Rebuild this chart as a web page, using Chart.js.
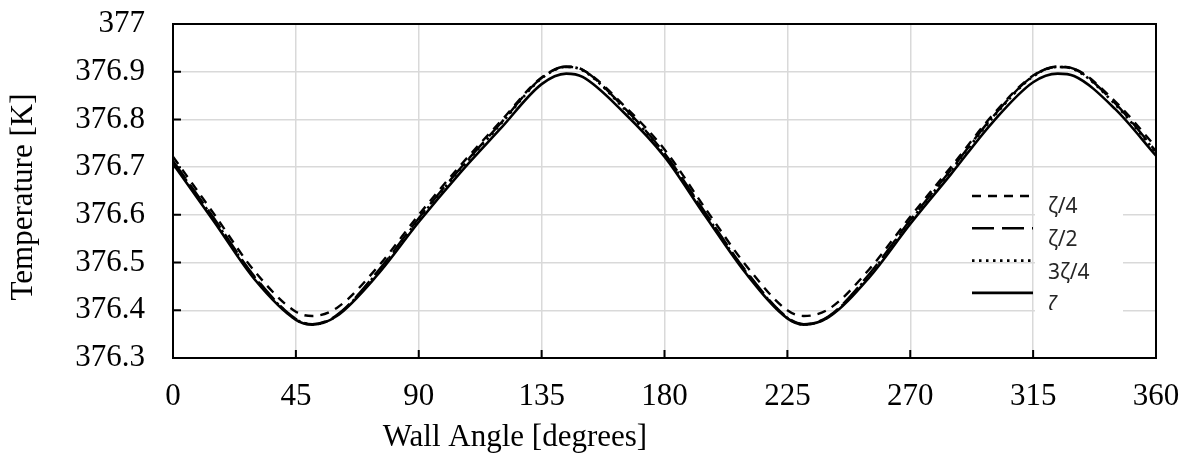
<!DOCTYPE html>
<html>
<head>
<meta charset="utf-8">
<script src="https://cdn.jsdelivr.net/npm/chart.js@4"></script>
<style>
  html, body { margin: 0; background: #fff; }
  #wrap { width: 1190px; height: 466px; position: relative; }
</style>
</head>
<body>
<div id="wrap"><canvas id="tempChart"></canvas></div>
<script>
// Wall temperature vs. wall angle for four values of zeta.

const ANGLES = [0, 15, 30, 45, 51, 60, 75, 90, 105, 120, 135, 144, 150, 165, 180,
  195, 210, 225, 231, 240, 255, 270, 285, 300, 315, 324, 330, 345, 360];

const ZETA_Q = [376.722, 376.602, 376.481, 376.397, 376.388, 376.405, 376.491, 376.600,
  376.702, 376.796, 376.888, 376.910, 376.904, 376.830, 376.737, 376.613, 376.493,
  376.400, 376.388, 376.402, 376.486, 376.596, 376.701, 376.808, 376.892, 376.910,
  376.906, 376.838, 376.742];

const ZETA_H = [376.713, 376.593, 376.470, 376.382, 376.371, 376.390, 376.482, 376.593,
  376.696, 376.792, 376.887, 376.911, 376.904, 376.826, 376.729, 376.604, 376.481,
  376.385, 376.371, 376.387, 376.476, 376.589, 376.695, 376.804, 376.891, 376.911,
  376.906, 376.834, 376.733];

const ZETA_3Q = [376.711, 376.591, 376.468, 376.381, 376.370, 376.389, 376.480, 376.591,
  376.694, 376.790, 376.886, 376.910, 376.903, 376.824, 376.727, 376.602, 376.479,
  376.384, 376.370, 376.386, 376.474, 376.587, 376.693, 376.802, 376.890, 376.910,
  376.905, 376.832, 376.731];

const ZETA = [376.707, 376.586, 376.464, 376.380, 376.370, 376.388, 376.475, 376.585,
  376.687, 376.781, 376.874, 376.896, 376.889, 376.815, 376.722, 376.597, 376.476,
  376.383, 376.370, 376.385, 376.469, 376.581, 376.686, 376.793, 376.878, 376.896,
  376.891, 376.822, 376.724];

const SERIES_LABELS = ['ζ/4', 'ζ/2', '3ζ/4', 'ζ'];

const X_TICKS = [0, 45, 90, 135, 180, 225, 270, 315, 360];
const Y_TICKS = [376.3, 376.4, 376.5, 376.6, 376.7, 376.8, 376.9, 377];
const Y_TICK_LABELS = ['376.3', '376.4', '376.5', '376.6', '376.7', '376.8', '376.9', '377'];

const X_TITLE = 'Wall Angle [degrees]';
const Y_TITLE = 'Temperature [K]';

const SERIF = '"Liberation Serif", "Times New Roman", serif';
const GRID = '#d9d9d9';

function series(label, vals, dash, width) {
  return {
    label,
    data: ANGLES.map((a, i) => ({x: a, y: vals[i]})),
    borderColor: '#000',
    borderWidth: width,
    borderDash: dash,
    pointRadius: 0,
    fill: false,
    cubicInterpolationMode: 'monotone'
  };
}

// Legend sits inside the plot, lower right, with a white patch behind the labels.
const insetLegend = {
  id: 'insetLegend',
  afterDatasetsDraw(chart) {
    const {ctx, chartArea: a} = chart;
    const lineL = a.right - 184, lineR = a.right - 123;
    const boxL = a.right - 121, boxR = a.right - 33;
    const lineTop = a.top + 172, lineStep = 32.3;
    const textTop = a.top + 183, textStep = 33;
    ctx.save();
    ctx.fillStyle = '#fff';
    ctx.fillRect(boxL, a.top + 158, boxR - boxL, a.bottom - 1 - (a.top + 158));
    chart.data.datasets.forEach((ds, i) => {
      const y = lineTop + i * lineStep;
      ctx.strokeStyle = '#000';
      ctx.lineWidth = ds.borderWidth;
      ctx.setLineDash(ds.borderDash || []);
      ctx.beginPath();
      ctx.moveTo(lineL, y);
      ctx.lineTo(lineR, y);
      ctx.stroke();
    });
    ctx.setLineDash([]);
    // the last label is cut off by the legend frame
    ctx.beginPath();
    ctx.rect(boxL, a.top + 158, boxR - boxL, 128);
    ctx.clip();
    ctx.fillStyle = '#262626';
    ctx.font = '21px "Noto Sans", sans-serif';
    ctx.textBaseline = 'middle';
    ctx.textAlign = 'left';
    chart.data.datasets.forEach((ds, i) => {
      ctx.fillText(ds.label, a.right - 108, textTop + i * textStep);
    });
    ctx.restore();
  }
};

// Black frame round the plot and short inward tick marks.
const frameTicks = {
  id: 'frameTicks',
  afterDatasetsDraw(chart) {
    const {ctx, chartArea: a, scales: {x, y}} = chart;
    ctx.save();
    ctx.strokeStyle = '#000';
    ctx.lineWidth = 2;
    ctx.beginPath();
    for (const t of x.ticks) {
      const px = x.getPixelForValue(t.value);
      ctx.moveTo(px, a.bottom);
      ctx.lineTo(px, a.bottom - 8);
    }
    for (const t of y.ticks) {
      const py = y.getPixelForValue(t.value);
      ctx.moveTo(a.left, py);
      ctx.lineTo(a.left + 8, py);
    }
    ctx.stroke();
    ctx.strokeRect(a.left, a.top, a.width, a.height);
    ctx.restore();
  }
};

const axisTitles = {
  id: 'axisTitles',
  afterDraw(chart) {
    const {ctx, chartArea: a} = chart;
    ctx.save();
    ctx.fillStyle = '#000';
    ctx.font = '31px ' + SERIF;
    ctx.textAlign = 'center';
    ctx.textBaseline = 'middle';
    ctx.fillText(X_TITLE, a.left + 342, a.bottom + 80);
    ctx.translate(24, (a.top + a.bottom) / 2 + 6);
    ctx.rotate(-Math.PI / 2);
    ctx.fillText(Y_TITLE, 0, 0);
    ctx.restore();
  }
};

new Chart(document.getElementById('tempChart').getContext('2d'), {
  type: 'line',
  data: {
    datasets: [
      series(SERIES_LABELS[0], ZETA_Q, [9, 7], 2.4),
      series(SERIES_LABELS[1], ZETA_H, [22, 8], 2.4),
      series(SERIES_LABELS[2], ZETA_3Q, [2.5, 4.5], 2.6),
      series(SERIES_LABELS[3], ZETA, [], 2.6)
    ]
  },
  plugins: [insetLegend, frameTicks, axisTitles],
  options: {
    responsive: true,
    maintainAspectRatio: false,
    animation: false,
    layout: {padding: {top: 24, right: 34, left: 0, bottom: 0}},
    plugins: {
      legend: {display: false},
      tooltip: {enabled: false}
    },
    scales: {
      x: {
        type: 'linear',
        min: 0,
        max: 360,
        afterBuildTicks: axis => { axis.ticks = X_TICKS.map(v => ({value: v})); },
        grid: {color: GRID, lineWidth: 1.5, drawTicks: false},
        border: {display: false},
        ticks: {
          padding: 20,
          color: '#000',
          maxRotation: 0,
          autoSkip: false,
          font: {family: SERIF, size: 31}
        },
        afterFit: axis => {
          axis.height = 108;
          axis.paddingLeft = 0;
          axis.paddingRight = 0;
        }
      },
      y: {
        type: 'linear',
        min: 376.3,
        max: 377,
        afterBuildTicks: axis => { axis.ticks = Y_TICKS.map(v => ({value: v})); },
        grid: {color: GRID, lineWidth: 1.5, drawTicks: false},
        border: {display: false},
        ticks: {
          padding: 28,
          color: '#000',
          autoSkip: false,
          font: {family: SERIF, size: 31},
          callback: (v, i) => Y_TICK_LABELS[i]
        },
        afterFit: axis => {
          axis.width = 173;
          axis.paddingTop = 0;
          axis.paddingBottom = 0;
        }
      }
    }
  }
});
</script>
</body>
</html>
